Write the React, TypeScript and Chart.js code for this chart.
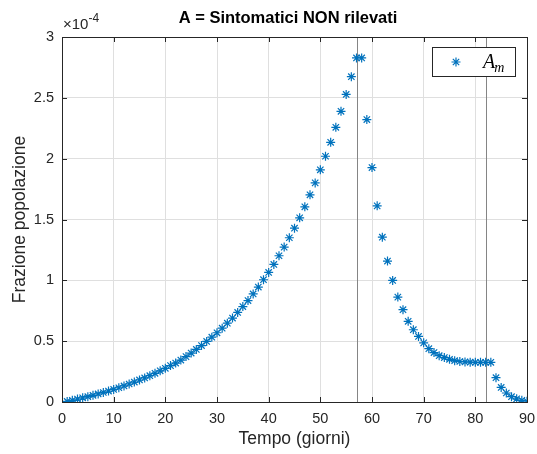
import React, { useEffect, useRef } from "react";
import { Chart, registerables } from "chart.js";

Chart.register(...registerables);

// Values are in units of 1e-4 (axis shows ×10^-4)
const DAYS = [
  1, 2, 3, 4, 5, 6, 7, 8, 9, 10,
  11, 12, 13, 14, 15, 16, 17, 18, 19, 20,
  21, 22, 23, 24, 25, 26, 27, 28, 29, 30,
  31, 32, 33, 34, 35, 36, 37, 38, 39, 40,
  41, 42, 43, 44, 45, 46, 47, 48, 49, 50,
  51, 52, 53, 54, 55, 56, 57, 58, 59, 60,
  61, 62, 63, 64, 65, 66, 67, 68, 69, 70,
  71, 72, 73, 74, 75, 76, 77, 78, 79, 80,
  81, 82, 83, 84, 85, 86, 87, 88, 89, 90,
];

const A_M = [
  0.005, 0.014, 0.024, 0.034, 0.044, 0.055, 0.066, 0.078, 0.090, 0.103,
  0.117, 0.132, 0.148, 0.164, 0.181, 0.198, 0.216, 0.236, 0.256, 0.277,
  0.299, 0.320, 0.345, 0.373, 0.402, 0.432, 0.464, 0.498, 0.533, 0.569,
  0.607, 0.648, 0.690, 0.736, 0.784, 0.834, 0.888, 0.945, 1.005, 1.065,
  1.131, 1.202, 1.273, 1.350, 1.429, 1.514, 1.604, 1.703, 1.801, 1.908,
  2.020, 2.134, 2.258, 2.389, 2.528, 2.674, 2.828, 2.828, 2.321, 1.927,
  1.612, 1.355, 1.158, 0.999, 0.862, 0.759, 0.663, 0.594, 0.539, 0.486,
  0.438, 0.406, 0.381, 0.365, 0.351, 0.340, 0.333, 0.329, 0.327, 0.326,
  0.326, 0.326, 0.326, 0.200, 0.120, 0.074, 0.044, 0.026, 0.014, 0.006,
];

const X_TICKS = [0, 10, 20, 30, 40, 50, 60, 70, 80, 90];
const Y_TICKS = [0, 0.5, 1, 1.5, 2, 2.5, 3];
const Y_TICK_LABELS = ["0", "0.5", "1", "1.5", "2", "2.5", "3"];
const VLINES = [57, 82];

const TITLE = "A = Sintomatici NON rilevati";
const X_LABEL = "Tempo (giorni)";
const Y_LABEL = "Frazione popolazione";
const EXPONENT = "-4";

const BLUE = "#0072BD";
const AXIS = "#262626";
const GRID = "#dfdfdf";
const FONT = "'Liberation Sans', Arial, Helvetica, sans-serif";

const decorPlugin = {
  id: "decor",
  beforeDatasetsDraw(chart: any) {
    const { ctx, chartArea, scales } = chart;
    const xs = scales.x;
    ctx.save();
    ctx.strokeStyle = "#858585";
    ctx.lineWidth = 1;
    for (const v of VLINES) {
      const px = Math.round(xs.getPixelForValue(v)) + 0.5;
      ctx.beginPath();
      ctx.moveTo(px, chartArea.top);
      ctx.lineTo(px, chartArea.bottom);
      ctx.stroke();
    }
    ctx.restore();
  },
  afterDraw(chart: any) {
    const { ctx, chartArea, scales } = chart;
    const { left, right, top, bottom } = chartArea;
    const xs = scales.x;
    const ys = scales.y;
    ctx.save();
    // box
    ctx.strokeStyle = AXIS;
    ctx.lineWidth = 1;
    ctx.strokeRect(Math.round(left) + 0.5, Math.round(top) + 0.5, Math.round(right - left), Math.round(bottom - top));
    // inner ticks
    const tl = 5;
    ctx.beginPath();
    for (const v of X_TICKS) {
      const px = Math.round(xs.getPixelForValue(v)) + 0.5;
      ctx.moveTo(px, bottom);
      ctx.lineTo(px, bottom - tl);
      ctx.moveTo(px, top);
      ctx.lineTo(px, top + tl);
    }
    for (const v of Y_TICKS) {
      const py = Math.round(ys.getPixelForValue(v)) + 0.5;
      ctx.moveTo(left, py);
      ctx.lineTo(left + tl, py);
      ctx.moveTo(right, py);
      ctx.lineTo(right - tl, py);
    }
    ctx.stroke();

    // title
    ctx.fillStyle = "#000";
    ctx.font = `bold 16.5px ${FONT}`;
    ctx.textAlign = "center";
    ctx.textBaseline = "middle";
    ctx.fillText(TITLE, 288, 18);

    // exponent
    ctx.fillStyle = AXIS;
    ctx.textAlign = "left";
    ctx.textBaseline = "alphabetic";
    ctx.font = `15px ${FONT}`;
    ctx.fillText("\u00d710", left + 1, 29);
    const w = ctx.measureText("\u00d710").width;
    ctx.font = `12px ${FONT}`;
    ctx.fillText(EXPONENT, left + 1 + w, 22);

    // axis titles
    ctx.font = `17.5px ${FONT}`;
    ctx.textAlign = "center";
    ctx.textBaseline = "middle";
    ctx.fillText(X_LABEL, (left + right) / 2, 439);
    ctx.save();
    ctx.translate(20, (top + bottom) / 2);
    ctx.rotate(-Math.PI / 2);
    ctx.fillText(Y_LABEL, 0, 0);
    ctx.restore();

    // legend
    const lx = 432, ly = 47, lw = 83, lh = 29;
    ctx.fillStyle = "#fff";
    ctx.fillRect(lx, ly, lw, lh);
    ctx.strokeStyle = AXIS;
    ctx.strokeRect(lx + 0.5, ly + 0.5, lw, lh);
    // asterisk marker
    const cx = 456, cy = 62, r = 4.5;
    ctx.strokeStyle = BLUE;
    ctx.lineWidth = 1.2;
    ctx.beginPath();
    for (let k = 0; k < 4; k++) {
      const a = (k * Math.PI) / 4;
      ctx.moveTo(cx + r * Math.cos(a), cy + r * Math.sin(a));
      ctx.lineTo(cx - r * Math.cos(a), cy - r * Math.sin(a));
    }
    ctx.stroke();
    ctx.fillStyle = "#000";
    ctx.textAlign = "left";
    ctx.textBaseline = "alphabetic";
    ctx.font = `italic 20px 'Liberation Serif', 'DejaVu Serif', serif`;
    ctx.fillText("A", 483, 68);
    const aw = ctx.measureText("A").width;
    ctx.font = `italic 14px 'Liberation Serif', 'DejaVu Serif', serif`;
    ctx.fillText("m", 483 + aw - 1, 72);
    ctx.restore();
  },
};

export default function App() {
  const ref = useRef<HTMLCanvasElement | null>(null);
  useEffect(() => {
    if (!ref.current) return;
    const chart = new Chart(ref.current, {
      type: "scatter",
      data: {
        datasets: [
          {
            label: "A_m",
            data: DAYS.map((d, i) => ({ x: d, y: A_M[i] })),
            pointStyle: "star",
            radius: 4.5,
            borderColor: BLUE,
            backgroundColor: BLUE,
            borderWidth: 1.2,
            pointHoverRadius: 4.5,
          },
        ],
      },
      options: {
        animation: false,
        responsive: false,
        maintainAspectRatio: false,
        layout: { padding: { left: 0, right: 10, top: 37, bottom: 0 } },
        plugins: { legend: { display: false }, title: { display: false }, tooltip: { enabled: false } },
        scales: {
          x: {
            type: "linear",
            min: 0,
            max: 90,
            afterFit: (s: any) => { s.height = 52; s.paddingLeft = 0; s.paddingRight = 0; },
            afterBuildTicks: (s: any) => { s.ticks = X_TICKS.map((v) => ({ value: v })); },
            ticks: {
              color: AXIS,
              font: { family: FONT, size: 14.5 },
              padding: 8,
              maxRotation: 0,
              callback: (v: any) => String(v),
            },
            grid: { color: GRID, drawTicks: false, lineWidth: 1 },
            border: { display: false },
          },
          y: {
            type: "linear",
            min: 0,
            max: 3,
            afterFit: (s: any) => { s.width = 62; s.paddingTop = 0; s.paddingBottom = 0; },
            afterBuildTicks: (s: any) => { s.ticks = Y_TICKS.map((v) => ({ value: v })); },
            ticks: {
              color: AXIS,
              font: { family: FONT, size: 14.5 },
              padding: 8,
              callback: (v: any) => {
                const i = Y_TICKS.indexOf(Number(v));
                return i >= 0 ? Y_TICK_LABELS[i] : "";
              },
            },
            grid: { color: GRID, drawTicks: false, lineWidth: 1 },
            border: { display: false },
          },
        },
      },
      plugins: [decorPlugin],
    });
    return () => chart.destroy();
  }, []);
  return (
    <div style={{ position: "fixed", left: 0, top: 0, width: 537, height: 454, background: "#fff" }}>
      <canvas ref={ref} width={537} height={454} style={{ width: 537, height: 454 }} />
    </div>
  );
}
